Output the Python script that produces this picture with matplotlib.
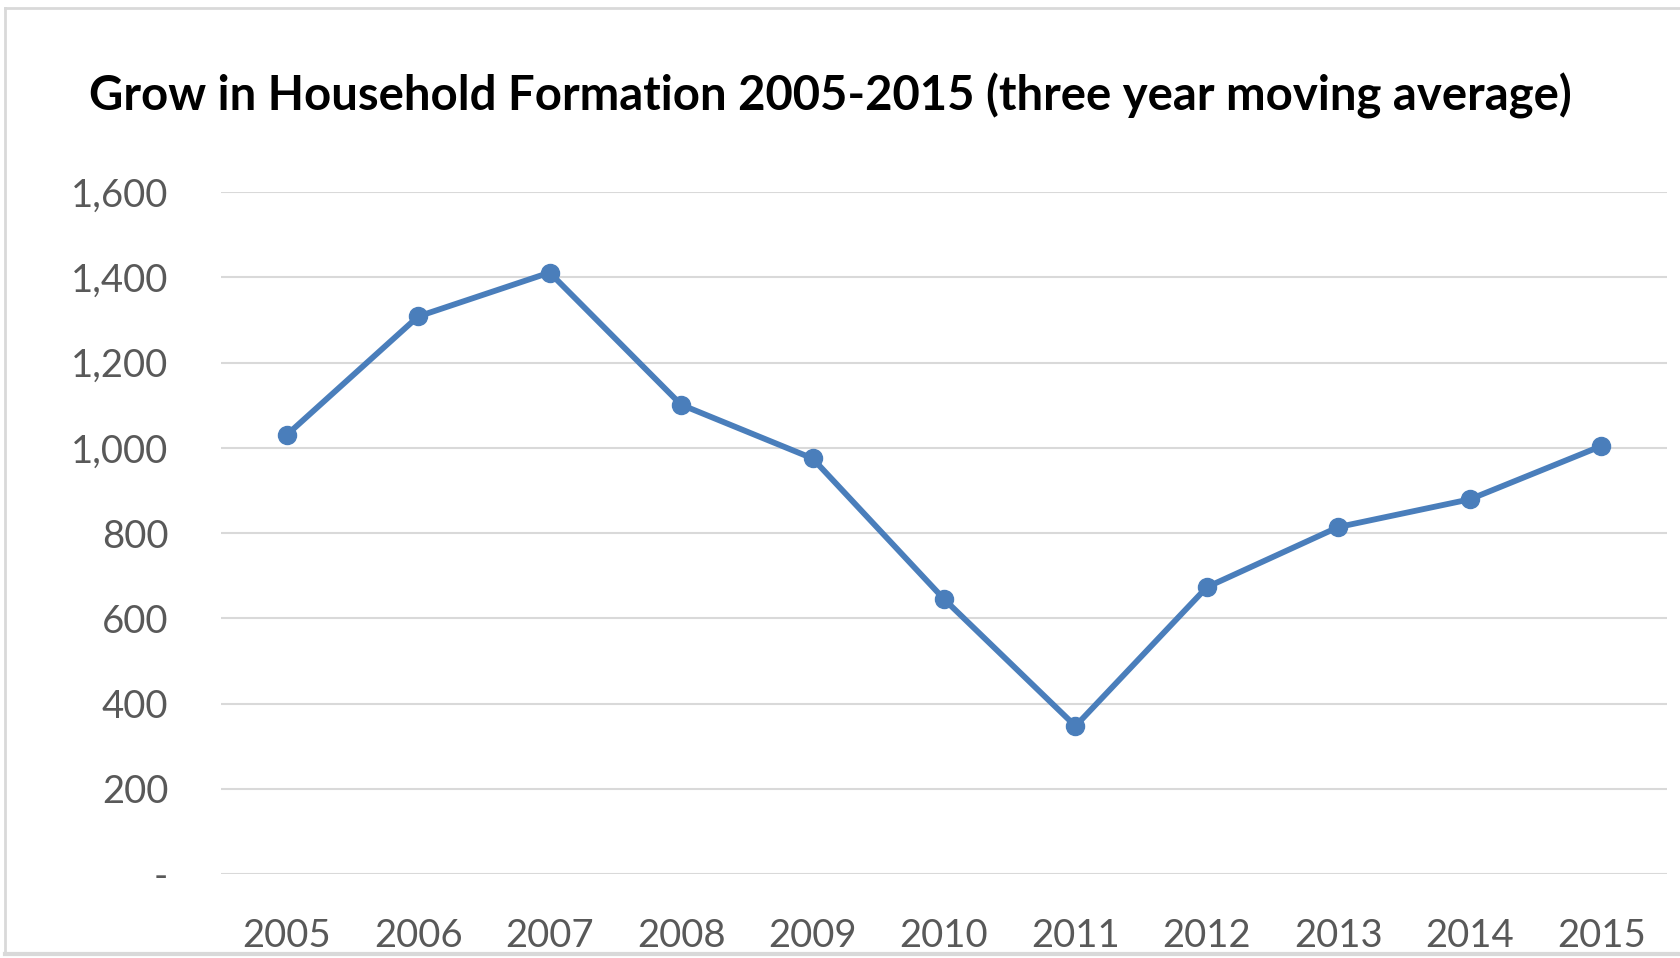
import matplotlib.pyplot as plt
from matplotlib.lines import Line2D
from matplotlib.ticker import FuncFormatter

years = ['2005', '2006', '2007', '2008', '2009', '2010',
         '2011', '2012', '2013', '2014', '2015']
households = [1030, 1308, 1411, 1101, 975, 645, 347, 673, 814, 879, 1004]
y_ticks = [0, 200, 400, 600, 800, 1000, 1200, 1400, 1600]

W, H = 1681, 958
fig = plt.figure(figsize=(W / 100, H / 100), dpi=100)
plt.rcParams['font.family'] = ['Lato', 'DejaVu Sans']

# plot area in pixels: x 221..1667, y 192 (1600) .. 874 (0)
ax = fig.add_axes([221 / W, 1 - 874 / H, (1667 - 221) / W, (874 - 192) / H])

x = list(range(len(years)))
ax.plot(x, households, color='#4a7ebb', lw=4.2, marker='o', ms=13,
        solid_joinstyle='round', clip_on=False, zorder=3)

ax.set_xlim(-0.5, len(years) - 0.5)
ax.set_ylim(0, 1600)
ax.set_xticks(x)
ax.set_xticklabels(years)
ax.set_yticks(y_ticks)
ax.yaxis.set_major_formatter(FuncFormatter(lambda v, p: '-' if v == 0 else f'{int(v):,}'))

ax.grid(axis='y', color='#d9d9d9', lw=1.5)
ax.set_axisbelow(True)
for s in ax.spines.values():
    s.set_visible(False)
ax.tick_params(axis='both', length=0, labelsize=27.5, colors='#595959')
ax.tick_params(axis='y', pad=38)
ax.tick_params(axis='x', pad=32)

fig.text(830 / W, 1 - 96 / H,
         'Grow in Household Formation 2005-2015 (three year moving average)',
         ha='center', va='center', fontsize=34, fontweight='bold', color='black')

# chart frame
bc = '#d9d9d9'
fig.add_artist(Line2D([5 / W, 1], [1 - 8 / H, 1 - 8 / H], color=bc, lw=2))
fig.add_artist(Line2D([5 / W, 5 / W], [1 - 8 / H, 1 - 954 / H], color=bc, lw=2))
fig.add_artist(Line2D([5 / W, 1], [1 - 954 / H, 1 - 954 / H], color=bc, lw=3))

fig.savefig('out.png', dpi=100)
